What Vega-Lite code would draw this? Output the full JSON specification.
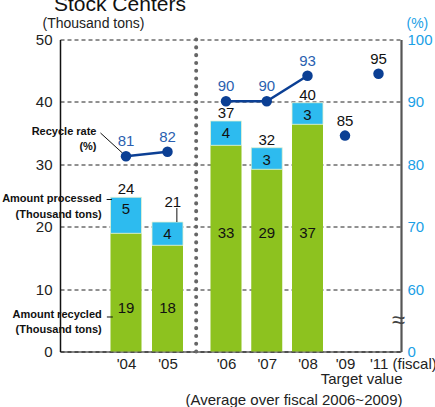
{
  "$schema": "https://vega.github.io/schema/vega-lite/v6.json",
  "width": 341,
  "height": 312,
  "autosize": {"type": "none"},
  "padding": {"left": 60, "top": 39.5, "right": 34, "bottom": 55.5},
  "title": {"text": "Stock Centers", "anchor": "start", "frame": "group", "fontSize": 21, "fontWeight": "normal", "font": "Liberation Sans", "color": "#111", "baseline": "alphabetic", "offset": 0, "dx": -6, "dy": 16},
  "config": {"view": {"stroke": null}, "font": "Liberation Sans", "text": {"font": "Liberation Sans", "fontSize": 15}},
  "datasets": {
    "amounts": [
      {"fy": 2004, "recycled": 18.94, "total": 24.71, "rLabel": "19", "pLabel": "5", "tLabel": "24"},
      {"fy": 2005, "recycled": 17.02, "total": 20.75, "rLabel": "18", "pLabel": "4", "tLabel": "21"},
      {"fy": 2006, "recycled": 33.04, "total": 36.94, "rLabel": "33", "pLabel": "4", "tLabel": "37"},
      {"fy": 2007, "recycled": 29.2, "total": 32.66, "rLabel": "29", "pLabel": "3", "tLabel": "32"},
      {"fy": 2008, "recycled": 36.41, "total": 39.87, "rLabel": "37", "pLabel": "3", "tLabel": "40"}
    ],
    "rates": [
      {"fy": 2004, "rate": 81.3, "rateLabel": "81", "seg": "04-05"},
      {"fy": 2005, "rate": 82.0, "rateLabel": "82", "seg": "04-05"},
      {"fy": 2006, "rate": 90.1, "rateLabel": "90", "seg": "06-08"},
      {"fy": 2007, "rate": 90.1, "rateLabel": "90", "seg": "06-08"},
      {"fy": 2008, "rate": 94.2, "rateLabel": "93", "seg": "06-08"},
      {"fy": 2009, "rate": 84.6, "rateLabel": "85", "seg": "target09"},
      {"fy": 2011, "rate": 94.5, "rateLabel": "95", "seg": "target11"}
    ]
  },
  "layer": [
    {
      "data": {"name": "amounts"},
      "layer": [
        {
          "mark": {"type": "bar", "width": 31, "color": "#8dc21f"},
          "encoding": {
            "x": {
              "field": "fy", "type": "quantitative",
              "scale": {"domain": [2003, 2004, 2005, 2006, 2008, 2009, 2011, 2012], "range": [0, 66, 107.5, 166, 247.5, 285, 318.5, 341], "zero": false, "nice": false},
              "axis": {
                "values": [2004, 2005, 2006, 2007, 2008, 2009, 2011],
                "labelExpr": "datum.value == 2011 ? \"'11 (fiscal)\" : \"'\" + slice(toString(datum.value), 2)",
                "labelAlign": {"condition": {"test": "datum.value == 2011", "value": "left"}, "value": "center"},
                "labelOffset": {"condition": {"test": "datum.value == 2011", "value": -9}, "value": 0},
                "labelFlush": false, "labelOverlap": false,
                "ticks": false, "grid": false, "domainColor": "#111", "domainWidth": 1.2,
                "labelFontSize": 15, "labelColor": "#222", "labelPadding": 5,
                "title": ["Target value", "(Average over fiscal 2006~2009)"],
                "titleFontSize": 15, "titleFontWeight": "normal", "titleColor": "#222",
                "titleAnchor": "end", "titleAlign": "right", "titleX": 342, "titleY": 20, "titleBaseline": "top", "titleLineHeight": 21
              }
            },
            "y": {
              "field": "recycled", "type": "quantitative",
              "scale": {"domain": [0, 50], "nice": false},
              "axis": {
                "values": [0, 10, 20, 30, 40, 50], "grid": true, "gridDash": [4, 3], "gridColor": "#222", "gridWidth": 1,
                "ticks": false, "domainColor": "#111", "domainWidth": 1.5, "labelFontSize": 15, "labelColor": "#222",
                "labelPadding": 8, "labelFlush": false,
                "title": "(Thousand tons)", "titleAngle": 0, "titleX": -18, "titleY": -16.5, "titleAlign": "left",
                "titleBaseline": "middle", "titleFontSize": 14, "titleFontWeight": "normal", "titleColor": "#222"
              }
            }
          }
        },
        {
          "mark": {"type": "bar", "width": 31, "color": "#2dbbef", "stroke": "#e4f3d2", "strokeWidth": 0.8},
          "encoding": {
            "x": {"field": "fy", "type": "quantitative"},
            "y": {"field": "recycled", "type": "quantitative"},
            "y2": {"field": "total"}
          }
        },
        {
          "data": {"values": [{}]},
          "mark": {"type": "rule", "color": "#666", "strokeWidth": 4, "strokeDash": [0.1, 7.7], "strokeCap": "round"},
          "encoding": {"x": {"datum": 2005.49}}
        },
        {
          "transform": [{"filter": "datum.fy != 2005"}],
          "mark": {"type": "text", "baseline": "alphabetic", "dy": -3, "color": "#111"},
          "encoding": {
            "x": {"field": "fy", "type": "quantitative"},
            "y": {"field": "total", "type": "quantitative"},
            "text": {"field": "tLabel"}
          }
        },
        {
          "transform": [{"filter": "datum.fy == 2005"}],
          "mark": {"type": "text", "baseline": "middle", "color": "#111"},
          "encoding": {
            "x": {"datum": 2005.09},
            "y": {"datum": 24.0},
            "text": {"field": "tLabel"}
          }
        },
        {
          "data": {"values": [{}]},
          "mark": {"type": "rule", "color": "#111", "strokeWidth": 1},
          "encoding": {"x": {"datum": 2005.16}, "y": {"datum": 23.0}, "y2": {"datum": 20.75}}
        },
        {
          "mark": {"type": "text", "baseline": "middle", "dy": 12, "color": "#111"},
          "encoding": {
            "x": {"field": "fy", "type": "quantitative"},
            "y": {"field": "total", "type": "quantitative"},
            "text": {"field": "pLabel"}
          }
        },
        {
          "transform": [{"filter": "datum.fy <= 2005"}],
          "mark": {"type": "text", "baseline": "middle", "color": "#111"},
          "encoding": {
            "x": {"field": "fy", "type": "quantitative"},
            "y": {"datum": 6.92},
            "text": {"field": "rLabel"}
          }
        },
        {
          "transform": [{"filter": "datum.fy >= 2006"}],
          "mark": {"type": "text", "baseline": "middle", "color": "#111"},
          "encoding": {
            "x": {"field": "fy", "type": "quantitative"},
            "y": {"datum": 18.99},
            "text": {"field": "rLabel"}
          }
        },
        {
          "data": {"values": [{}]},
          "mark": {"type": "text", "align": "right", "baseline": "middle", "lineHeight": 15, "fontWeight": "bold", "fontSize": 11, "font": "Liberation Sans Narrow, Arial Narrow, Liberation Sans", "color": "#111", "text": ["Recycle rate", "(%)"]},
          "encoding": {"x": {"datum": 2003.492}, "y": {"datum": 35.22}}
        },
        {
          "data": {"values": [{}]},
          "mark": {"type": "text", "align": "right", "baseline": "middle", "lineHeight": 16, "fontWeight": "bold", "fontSize": 11, "font": "Liberation Sans Narrow, Arial Narrow, Liberation Sans", "color": "#111", "text": ["Amount processed", "(Thousand tons)"]},
          "encoding": {"x": {"datum": 2003.583}, "y": {"datum": 24.49}}
        },
        {
          "data": {"values": [{}]},
          "mark": {"type": "text", "align": "right", "baseline": "middle", "lineHeight": 15, "fontWeight": "bold", "fontSize": 11, "font": "Liberation Sans Narrow, Arial Narrow, Liberation Sans", "color": "#111", "text": ["Amount recycled", "(Thousand tons)"]},
          "encoding": {"x": {"datum": 2003.583}, "y": {"datum": 5.77}}
        },
        {
          "data": {"values": [{}]},
          "mark": {"type": "rule", "color": "#111", "strokeWidth": 1},
          "encoding": {"x": {"datum": 2003.561}, "x2": {"datum": 2003.939}, "y": {"datum": 35.02}, "y2": {"datum": 31.81}}
        },
        {
          "data": {"values": [{}]},
          "mark": {"type": "rule", "color": "#111", "strokeWidth": 1},
          "encoding": {"x": {"datum": 2003.667}, "x2": {"datum": 2003.758}, "y": {"datum": 24.36}}
        },
        {
          "data": {"values": [{}]},
          "mark": {"type": "rule", "color": "#111", "strokeWidth": 1},
          "encoding": {"x": {"datum": 2003.671}, "x2": {"datum": 2003.773}, "y": {"datum": 5.53}}
        },
        {
          "data": {"values": [{}]},
          "mark": {"type": "text", "text": "≈", "fontSize": 24, "color": "#444", "baseline": "middle"},
          "encoding": {"x": {"datum": 2012}, "y": {"datum": 4.89}}
        }
      ]
    },
    {
      "data": {"name": "rates"},
      "layer": [
        {
          "mark": {"type": "line", "color": "#0b3f94", "strokeWidth": 2.5},
          "encoding": {
            "x": {"field": "fy", "type": "quantitative"},
            "y": {
              "field": "rate", "type": "quantitative",
              "scale": {"domain": [50, 100], "nice": false, "zero": false},
              "axis": {
                "orient": "right", "values": [50, 60, 70, 80, 90, 100],
                "labelExpr": "datum.value == 50 ? '0' : datum.label",
                "grid": false, "ticks": false, "domainColor": "#555", "domainWidth": 2.2,
                "labelColor": "#1aa0e6", "labelFontSize": 15, "labelPadding": 6, "labelFlush": false,
                "title": "(%)", "titleAngle": 0, "titleX": 5, "titleY": -16.5, "titleAlign": "left",
                "titleBaseline": "middle", "titleColor": "#1aa0e6", "titleFontSize": 14, "titleFontWeight": "normal"
              }
            },
            "detail": {"field": "seg"}
          }
        },
        {
          "mark": {"type": "point", "filled": true, "size": 110, "color": "#0b3f94", "opacity": 1},
          "encoding": {
            "x": {"field": "fy", "type": "quantitative"},
            "y": {"field": "rate", "type": "quantitative"}
          }
        },
        {
          "mark": {"type": "text", "baseline": "alphabetic", "dy": -10, "fontSize": 15},
          "encoding": {
            "x": {"field": "fy", "type": "quantitative"},
            "y": {"field": "rate", "type": "quantitative"},
            "text": {"field": "rateLabel"},
            "color": {"condition": {"test": "datum.fy >= 2009", "value": "#111"}, "value": "#2a5fb0"}
          }
        }
      ]
    }
  ],
  "resolve": {"scale": {"y": "independent"}}
}
